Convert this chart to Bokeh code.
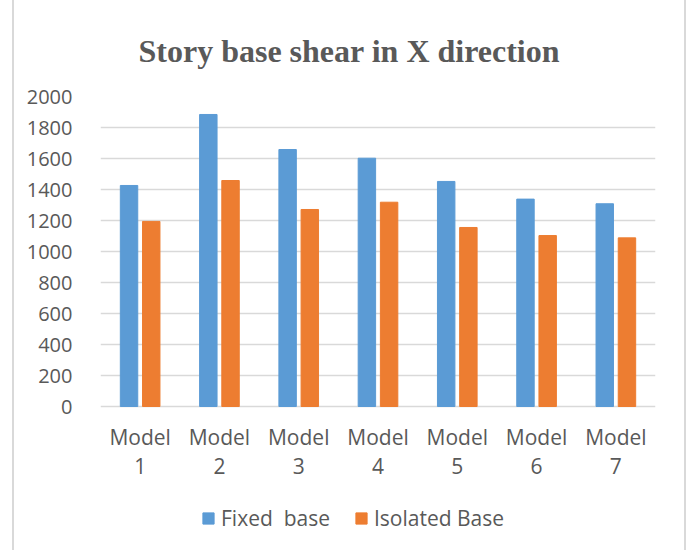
from bokeh.plotting import figure
from bokeh.models import ColumnDataSource, FactorRange, Range1d, Legend, LegendItem, FixedTicker
from bokeh.core.properties import value
from bokeh.transform import dodge
from bokeh.embed import file_html
from bokeh.resources import INLINE

models = ["Model\n1", "Model\n2", "Model\n3", "Model\n4", "Model\n5", "Model\n6", "Model\n7"]
fixed_base = [1426, 1884, 1658, 1602, 1452, 1338, 1308]
isolated_base = [1194, 1458, 1271, 1318, 1155, 1103, 1088]
y_ticks = [0, 200, 400, 600, 800, 1000, 1200, 1400, 1600, 1800, 2000]

src = ColumnDataSource(dict(model=models, fixed=fixed_base, isolated=isolated_base,
                            base=[0] * len(models)))

Y_MAX = 2000
PLOT_PX = 310          # pixels from 0 to Y_MAX
BELOW_PX = 139         # extra frame pixels below zero (category labels + legend)
y_min = -Y_MAX * BELOW_PX / PLOT_PX

p = figure(x_range=FactorRange(*models), y_range=Range1d(y_min, Y_MAX),
           frame_width=555, frame_height=PLOT_PX + BELOW_PX,
           output_backend="svg", toolbar_location=None,
           min_border_left=100, min_border_right=33, min_border_top=96, min_border_bottom=5)

p.border_fill_alpha = 0
p.styles = {"background": "linear-gradient(to right, transparent 12px, #d9d9d9 12px, #d9d9d9 14px, "
                          "transparent 14px, transparent 684px, #d9d9d9 684px, #d9d9d9 686px, transparent 686px)"}

r1 = p.vbar(x=dodge("model", -0.14, range=p.x_range), top="fixed", width=0.22,
            source=src, color="#5B9BD5", line_color="#5B9BD5")
r2 = p.vbar(x=dodge("model", 0.14, range=p.x_range), top="isolated", width=0.22,
            source=src, color="#ED7D31", line_color="#ED7D31")

# category labels (in place of the x axis)
p.text(x="model", y="base", text="model", source=src, text_align="center", text_baseline="top",
       y_offset=16, text_font=value("Open Sans"), text_font_size="21px", text_color="#595959",
       text_line_height=1.05)

p.title.text = "Story base shear in X direction"
p.title.align = "left"
p.title.offset = 38
p.title.text_font = "Liberation Serif"
p.title.text_font_style = "bold"
p.title.text_font_size = "32px"
p.title.text_color = "#595959"
p.title.standoff = 56

p.outline_line_color = None
p.xaxis.visible = False
p.xgrid.grid_line_color = None
p.ygrid.grid_line_color = "#d9d9d9"
p.ygrid.grid_line_width = 1.5

p.yaxis.ticker = FixedTicker(ticks=y_ticks)
p.yaxis.axis_line_color = None
p.yaxis.major_tick_line_color = None
p.yaxis.minor_tick_line_color = None
p.yaxis.major_label_standoff = 22
p.yaxis.major_label_text_font = "Open Sans"
p.yaxis.major_label_text_font_size = "20px"
p.yaxis.major_label_text_color = "#595959"

legend = Legend(items=[LegendItem(label="Fixed  base", renderers=[r1]),
                       LegendItem(label="Isolated Base", renderers=[r2])],
                orientation="horizontal", location=(101, 13),
                glyph_width=14, glyph_height=14, spacing=24, label_standoff=6,
                label_text_font="Open Sans", label_text_font_size="21px",
                label_text_color="#595959", border_line_color=None,
                background_fill_alpha=0, margin=0, padding=4)
p.add_layout(legend, "center")

open("out.html", "w").write(file_html(p, INLINE))
